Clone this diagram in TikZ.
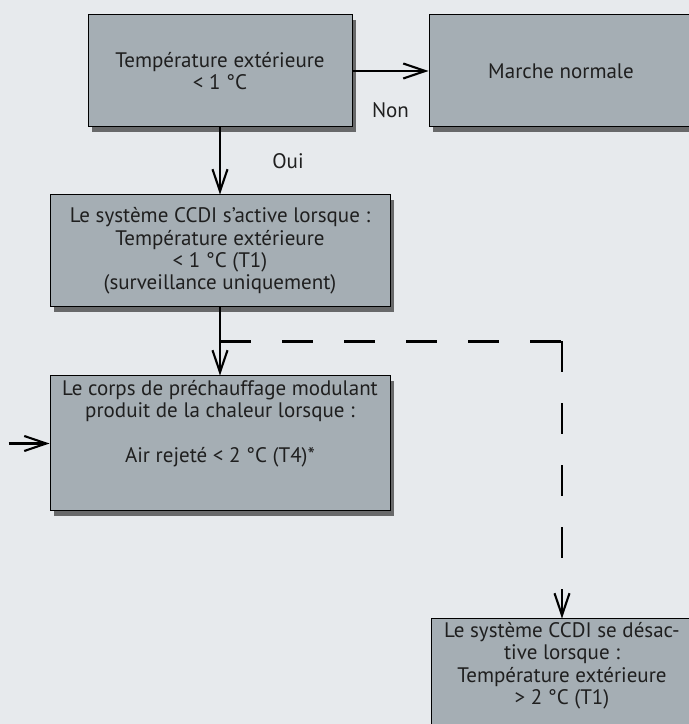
\documentclass[tikz,border=0pt]{standalone}
\usepackage{fontspec}
\setmainfont{PT Sans}
\usepackage{tikz}
\usetikzlibrary{arrows.meta, positioning, calc, shadows}
\definecolor{bgcol}{HTML}{E7EAED}
\definecolor{boxcol}{HTML}{A5AEB4}
\definecolor{inkcol}{HTML}{1F1F1F}

\begin{document}
\begin{tikzpicture}[x=1pt,y=1pt,>={Straight Barb[length=22pt,width=15pt]},
		line width=2.1pt,node distance=67pt,
		stage box/.style={rectangle,draw=black,line width=1pt,fill=boxcol,text=inkcol,
			align=center,font=\fontsize{21}{22.3}\selectfont,
			drop shadow={shadow xshift=4pt,shadow yshift=-5pt,opacity=0.55,fill=black}},
		flow label/.style={text=inkcol,font=\fontsize{21}{22.3}\selectfont}]
		
		\fill[bgcol] (0,0) rectangle (689,724);
		\useasboundingbox (0,0) rectangle (689,724);
		
		\node[stage box,minimum width=264pt,minimum height=112pt] (temp) at (220,653)
			{Température extérieure\\< 1 °C};
		\node[stage box,minimum width=264pt,minimum height=112pt] (normal) [right=76pt of temp]
			{Marche normale};
		\node[stage box,minimum width=340pt,minimum height=112pt] (active) [below=67pt of temp]
			{Le système CCDI s’active lorsque :\\Température extérieure\\< 1 °C (T1)\\(surveillance uniquement)};
		\node[stage box,minimum width=340pt,minimum height=135pt] (corps) [below=68pt of active]
			{Le corps de préchauffage modulant\\produit de la chaleur lorsque :\\[22.3pt]Air rejeté < 2 °C (T4)*\\[22.3pt]\mbox{}};
		
		\coordinate (split) at ($(active.south)!0.5!(corps.north)$);
		\coordinate[right=342pt of split] (turn);
		\coordinate[left=41pt of corps.west] (feed);
		
		\node[stage box,minimum width=262pt,minimum height=128pt] (off) [below=277pt of turn]
			{Le système CCDI se désac-\\tive lorsque :\\Température extérieure\\> 2 °C (T1)\\[22.3pt]\mbox{}};
		
		\path[->]
		(temp) edge node[flow label,below=27pt] {Non} (normal)
		(temp) edge node[flow label,right=48pt] {Oui} (active)
		(active) edge (corps)
		(feed) edge (corps.west);
		
		\draw[dash pattern=on 31pt off 31pt] (split) -- (turn);
		\draw[->,dash pattern=on 31pt off 31pt] (turn) -- (off);
		
	\end{tikzpicture}
\end{document}
